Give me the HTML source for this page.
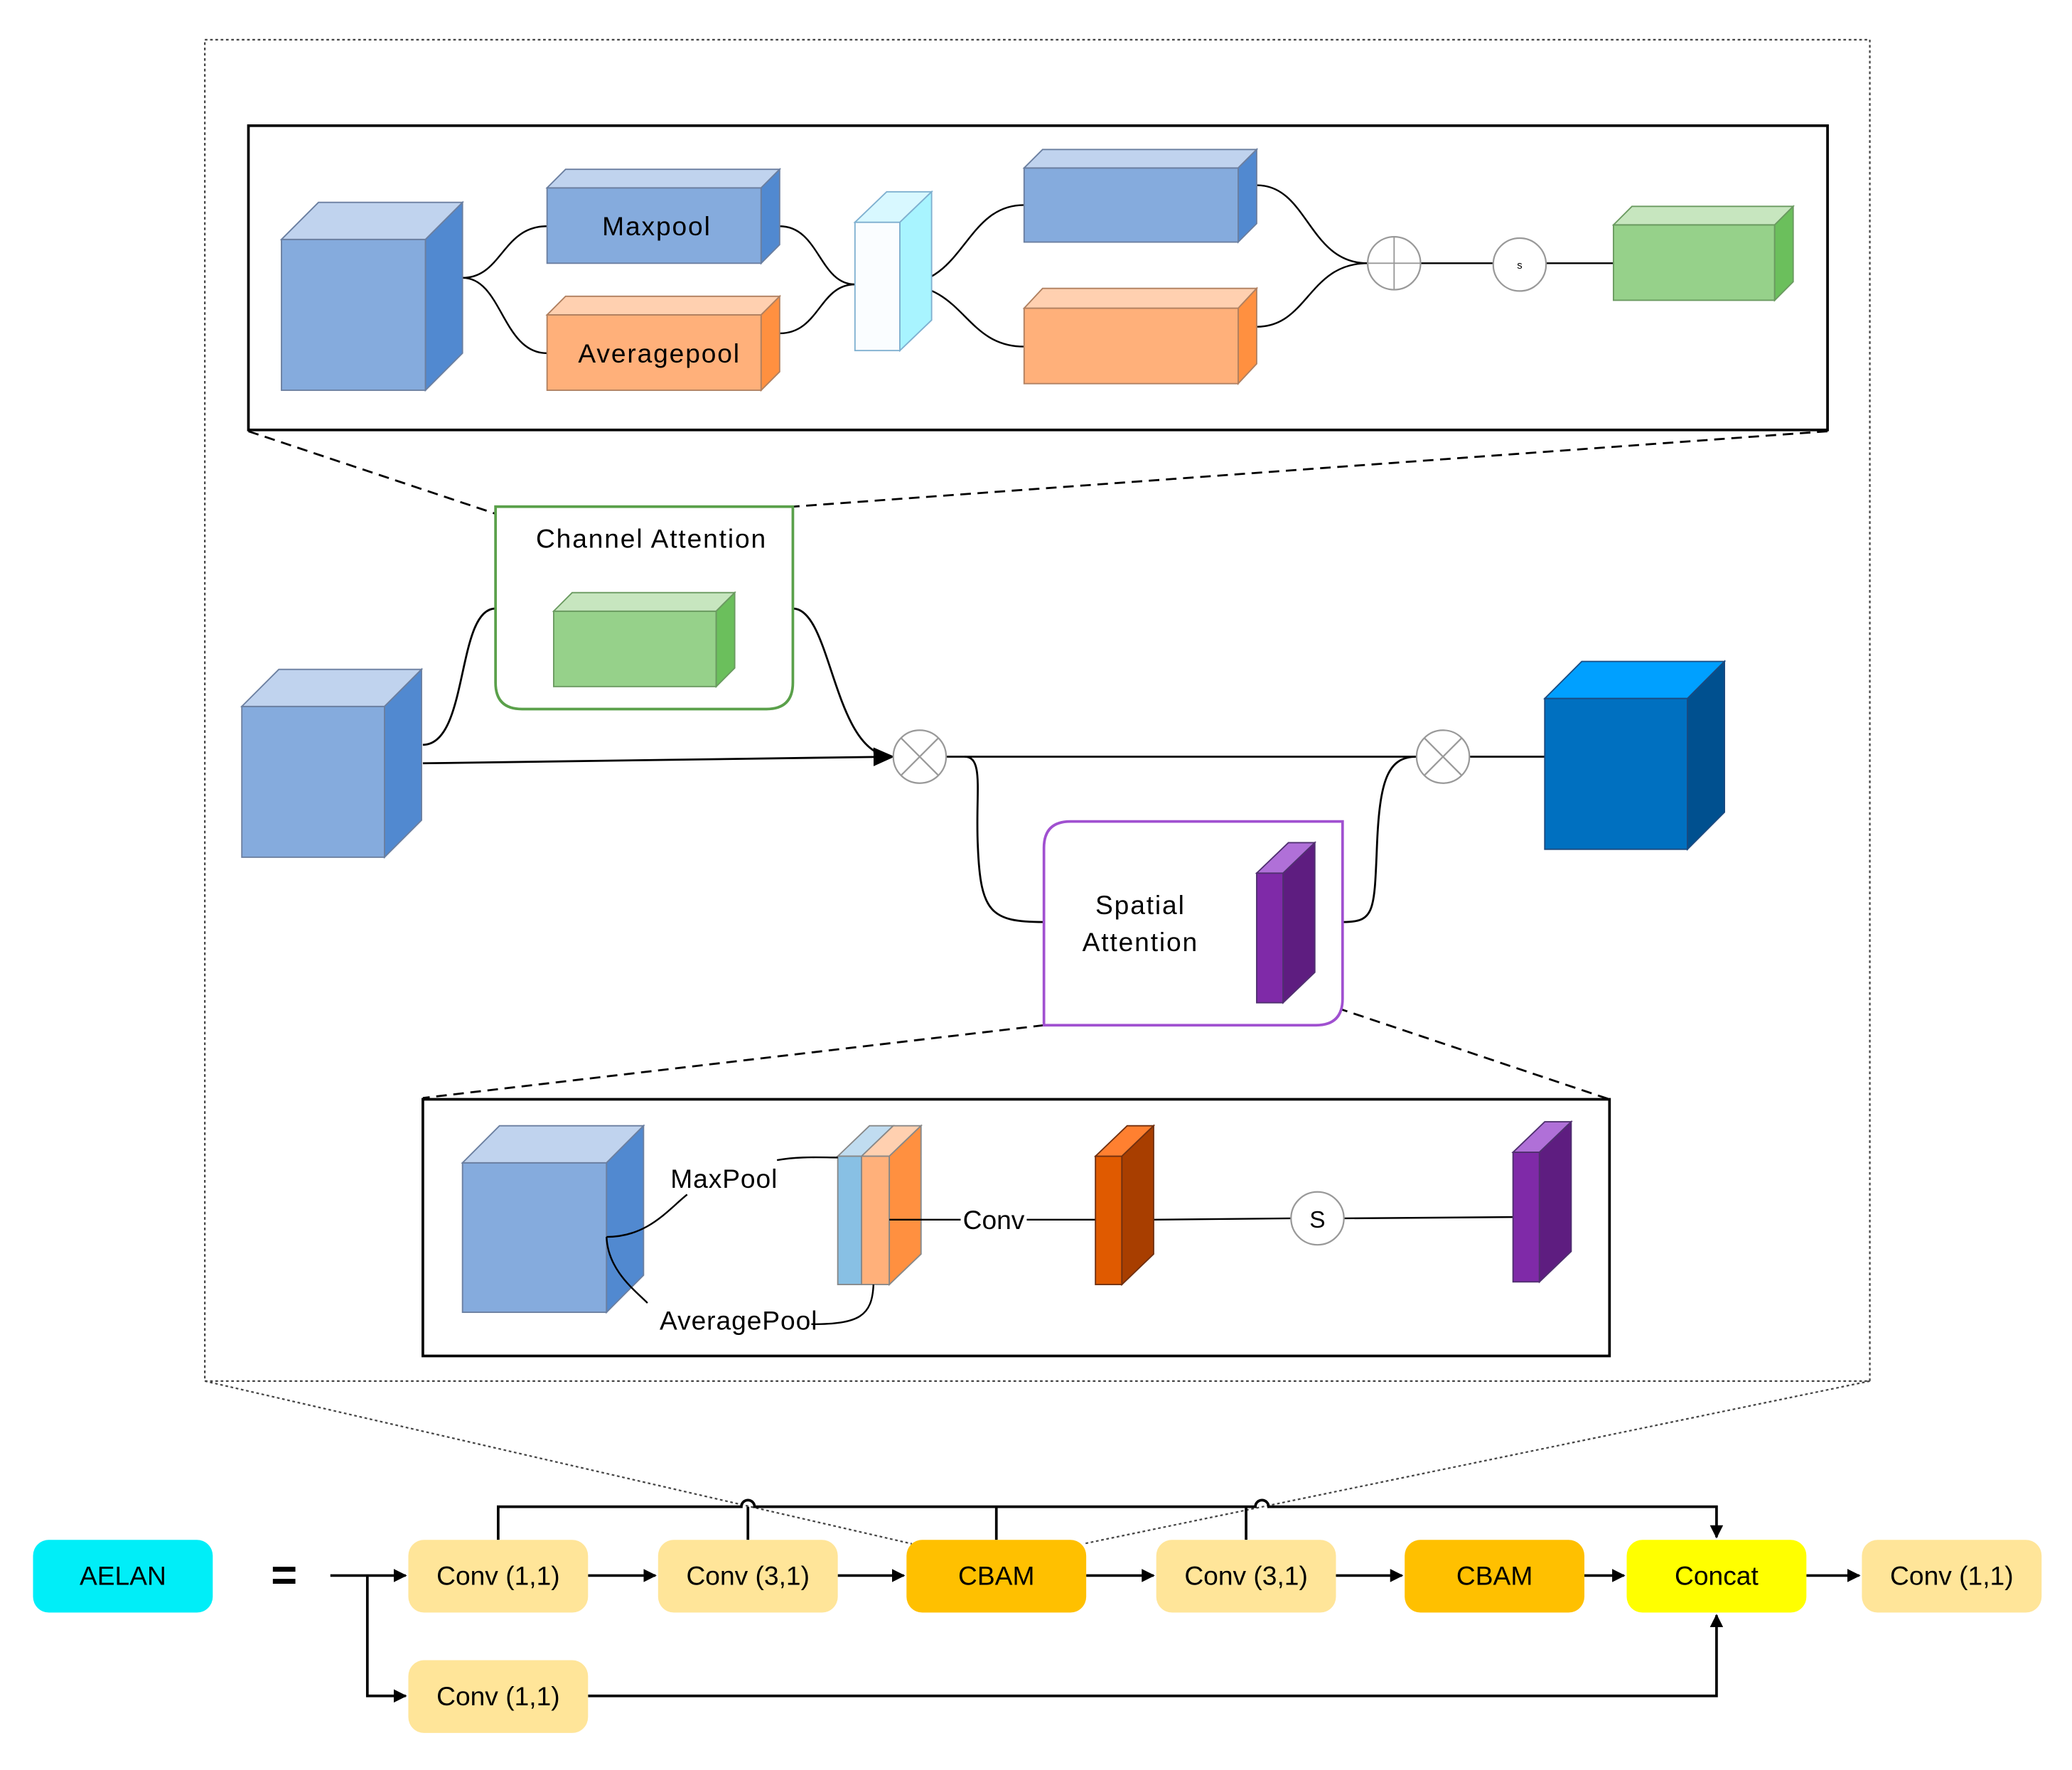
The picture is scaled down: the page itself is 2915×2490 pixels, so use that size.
<!DOCTYPE html>
<html><head><meta charset="utf-8"><style>html,body{margin:0;padding:0;background:#fff;}svg{display:block}</style></head>
<body>
<svg width="2915" height="2490" viewBox="0 0 1568 1338" preserveAspectRatio="none" xmlns="http://www.w3.org/2000/svg" font-family="Liberation Sans, sans-serif">
<defs>
<marker id="ar" markerWidth="10" markerHeight="10" refX="9" refY="5" orient="auto" markerUnits="userSpaceOnUse"><path d="M0,0 L10,5 L0,10 z" fill="#000"/></marker>
<marker id="ab" markerWidth="16" markerHeight="14" refX="15" refY="7" orient="auto" markerUnits="userSpaceOnUse"><path d="M0,0 L16,7 L0,14 z" fill="#000"/></marker>
</defs>
<rect width="1568" height="1338" fill="#fff"/>
<rect x="155" y="30" width="1260" height="1014" fill="none" stroke="#444" stroke-width="1.2" stroke-dasharray="2,2"/>
<line x1="155" y1="1044" x2="690" y2="1167" stroke="#444" stroke-width="1.2" stroke-dasharray="2,2"/>
<line x1="1415" y1="1044" x2="820" y2="1167" stroke="#444" stroke-width="1.2" stroke-dasharray="2,2"/>
<rect x="188" y="95" width="1195" height="230" fill="none" stroke="#000" stroke-width="2"/>
<g stroke="#000" stroke-width="1.3" fill="none">
<path d="M350,210 C380,210 380,171 414,171"/>
<path d="M350,210 C380,210 380,267 414,267"/>
<path d="M590,171 C620,171 620,215 647,215"/>
<path d="M590,252 C620,252 620,215 647,215"/>
<path d="M681,215 C730,215 730,155 775,155"/>
<path d="M681,215 C730,215 730,262 775,262"/>
<path d="M951,140 C990,140 990,199 1035,199"/>
<path d="M951,247 C990,247 990,199 1035,199"/>
<line x1="1075" y1="199" x2="1130" y2="199"/>
<line x1="1170" y1="199" x2="1221" y2="199"/>
</g>
<g stroke="#6b7fa0" stroke-width="1">
<rect x="213" y="181" width="109" height="114" fill="#85abdd"/>
<polygon points="213,181 241,153 350,153 322,181" fill="#c0d3ee"/>
<polygon points="322,181 350,153 350,267 322,295" fill="#5189d0"/>
<rect x="414" y="142" width="162" height="57" fill="#85abdd"/>
<polygon points="414,142 428,128 590,128 576,142" fill="#c0d3ee"/>
<polygon points="576,142 590,128 590,185 576,199" fill="#5189d0"/>
<rect x="775" y="127" width="162" height="56" fill="#85abdd"/>
<polygon points="775,127 789,113 951,113 937,127" fill="#c0d3ee"/>
<polygon points="937,127 951,113 951,169 937,183" fill="#5189d0"/>
</g>
<g stroke="#b08060" stroke-width="1">
<rect x="414" y="238" width="162" height="57" fill="#ffb07a"/>
<polygon points="414,238 428,224 590,224 576,238" fill="#ffd0b0"/>
<polygon points="576,238 590,224 590,281 576,295" fill="#ff9040"/>
<rect x="775" y="233" width="162" height="57" fill="#ffb07a"/>
<polygon points="775,233 789,218 951,218 937,233" fill="#ffd0b0"/>
<polygon points="937,233 951,218 951,275 937,290" fill="#ff9040"/>
</g>
<g stroke="#7fb0d0" stroke-width="1">
<rect x="647" y="168" width="34" height="97" fill="#fafdff"/>
<polygon points="647,168 671,145 705,145 681,168" fill="#d8f8ff"/>
<polygon points="681,168 705,145 705,242 681,265" fill="#a8f4ff"/>
</g>
<g stroke="#6a9a60" stroke-width="1">
<rect x="1221" y="170" width="122" height="57" fill="#96d18a"/>
<polygon points="1221,170 1235,156 1357,156 1343,170" fill="#c7e6bf"/>
<polygon points="1343,170 1357,156 1357,213 1343,227" fill="#6bbf5c"/>
</g>
<text x="497" y="178" font-size="20" text-anchor="middle" letter-spacing="1">Maxpool</text>
<text x="499" y="274" font-size="20" text-anchor="middle" letter-spacing="1">Averagepool</text>
<circle cx="1055" cy="199" r="20" fill="#fff" stroke="#999" stroke-width="1.2"/>
<line x1="1035" y1="199" x2="1075" y2="199" stroke="#999"/><line x1="1055" y1="179" x2="1055" y2="219" stroke="#999"/>
<circle cx="1150" cy="200" r="20" fill="#fff" stroke="#999" stroke-width="1.2"/>
<text x="1150" y="203" font-size="8" text-anchor="middle">s</text>
<g stroke="#000" stroke-width="1.5" stroke-dasharray="8,5" fill="none">
<line x1="188" y1="326" x2="380" y2="390"/>
<line x1="1383" y1="326" x2="600" y2="383"/>
<line x1="790" y1="775" x2="320" y2="830"/>
<line x1="1012" y1="762" x2="1218" y2="831"/>
</g>
<g stroke="#000" stroke-width="1.5" fill="none">
<path d="M320,563 C355,563 345,460 375,460"/>
<line x1="320" y1="577" x2="676" y2="572" marker-end="url(#ab)"/>
<path d="M600,460 C630,460 630,572 676,572" marker-end="url(#ab)"/>
<line x1="716" y1="572" x2="1072" y2="572"/>
<path d="M730,572 C745,572 738,600 740,640 C742,690 750,697 790,697"/>
<path d="M1016,697 C1040,697 1040,690 1042,640 C1044,590 1050,572 1072,572"/>
<line x1="1112" y1="572" x2="1169" y2="572"/>
</g>
<path d="M375,383 L600,383 L600,516 Q600,536 580,536 L395,536 Q375,536 375,516 Z" fill="#fff" stroke="#5aa04a" stroke-width="2"/>
<text x="493" y="414" font-size="20" text-anchor="middle" letter-spacing="1">Channel Attention</text>
<g stroke="#6a9a60" stroke-width="1">
<rect x="419" y="462" width="123" height="57" fill="#96d18a"/>
<polygon points="419,462 433,448 556,448 542,462" fill="#c7e6bf"/>
<polygon points="542,462 556,448 556,505 542,519" fill="#6bbf5c"/>
</g>
<g stroke="#6b7fa0" stroke-width="1">
<rect x="183" y="534" width="108" height="114" fill="#85abdd"/>
<polygon points="183,534 211,506 319,506 291,534" fill="#c0d3ee"/>
<polygon points="291,534 319,506 319,620 291,648" fill="#5189d0"/>
</g>
<g stroke="#1a4a80" stroke-width="1">
<rect x="1169" y="528" width="108" height="114" fill="#0070c0"/>
<polygon points="1169,528 1197,500 1305,500 1277,528" fill="#00a0ff"/>
<polygon points="1277,528 1305,500 1305,614 1277,642" fill="#00508f"/>
</g>
<g stroke="#999" stroke-width="1.2" fill="#fff">
<circle cx="696" cy="572" r="20"/><line x1="682" y1="558" x2="710" y2="586"/><line x1="710" y1="558" x2="682" y2="586"/>
<circle cx="1092" cy="572" r="20"/><line x1="1078" y1="558" x2="1106" y2="586"/><line x1="1106" y1="558" x2="1078" y2="586"/>
</g>
<path d="M810,621 L1016,621 L1016,755 Q1016,775 996,775 L790,775 L790,641 Q790,621 810,621 Z" fill="#fff" stroke="#a050d0" stroke-width="2"/>
<text x="863" y="691" font-size="20" text-anchor="middle" letter-spacing="1">Spatial</text>
<text x="863" y="719" font-size="20" text-anchor="middle" letter-spacing="1">Attention</text>
<g stroke="#503070" stroke-width="1">
<rect x="951" y="660" width="20" height="98" fill="#7f2aa8"/>
<polygon points="951,660 975,637 995,637 971,660" fill="#b070d8"/>
<polygon points="971,660 995,637 995,735 971,758" fill="#5e1d80"/>
</g>
<rect x="320" y="831" width="898" height="194" fill="none" stroke="#000" stroke-width="2"/>
<g stroke="#6b7fa0" stroke-width="1">
<rect x="350" y="879" width="109" height="113" fill="#85abdd"/>
<polygon points="350,879 378,851 487,851 459,879" fill="#c0d3ee"/>
<polygon points="459,879 487,851 487,964 459,992" fill="#5189d0"/>
</g>
<g stroke="#888" stroke-width="1">
<polygon points="634,874 658,851 676,851 652,874" fill="#c0dcf0"/>
<rect x="634" y="874" width="18" height="97" fill="#88c0e4"/>
<polygon points="652,874 676,851 697,851 673,874" fill="#ffd0b0"/>
<rect x="652" y="874" width="21" height="97" fill="#ffb07a"/>
<polygon points="673,874 697,851 697,948 673,971" fill="#ff9040"/>
</g>
<g stroke="#000" stroke-width="1.3" fill="none">
<path d="M459,935 C490,935 505,915 520,903"/>
<path d="M459,935 C460,960 480,975 490,985"/>
<path d="M588,877 C605,874 620,875 634,875"/>
<path d="M614,1001 C650,1001 660,995 661,971"/>
<line x1="673" y1="922" x2="727" y2="922"/>
<line x1="777" y1="922" x2="829" y2="922"/>
<line x1="873" y1="922" x2="977" y2="921"/>
<line x1="1017" y1="921" x2="1145" y2="920"/>
</g>
<text x="548" y="898" font-size="20" text-anchor="middle" letter-spacing="0.5">MaxPool</text>
<text x="559" y="1005" font-size="20" text-anchor="middle" letter-spacing="0.5">AveragePool</text>
<text x="752" y="929" font-size="20" text-anchor="middle">Conv</text>
<g stroke="#703010" stroke-width="1">
<rect x="829" y="874" width="20" height="97" fill="#e05a00"/>
<polygon points="829,874 853,851 873,851 849,874" fill="#ff8030"/>
<polygon points="849,874 873,851 873,948 849,971" fill="#a83e00"/>
</g>
<circle cx="997" cy="921" r="20" fill="#fff" stroke="#999" stroke-width="1.2"/>
<text x="997" y="928" font-size="18" text-anchor="middle">S</text>
<g stroke="#503070" stroke-width="1">
<rect x="1145" y="871" width="20" height="98" fill="#7f2aa8"/>
<polygon points="1145,871 1169,848 1189,848 1165,871" fill="#b070d8"/>
<polygon points="1165,871 1189,848 1189,946 1165,969" fill="#5e1d80"/>
</g>
<g stroke="#000" stroke-width="2" fill="none">
<line x1="250" y1="1191" x2="307" y2="1191" marker-end="url(#ar)"/>
<polyline points="278,1191 278,1282 307,1282" marker-end="url(#ar)"/>
<line x1="445" y1="1191" x2="496" y2="1191" marker-end="url(#ar)"/>
<line x1="634" y1="1191" x2="684" y2="1191" marker-end="url(#ar)"/>
<line x1="822" y1="1191" x2="873" y2="1191" marker-end="url(#ar)"/>
<line x1="1011" y1="1191" x2="1061" y2="1191" marker-end="url(#ar)"/>
<line x1="1199" y1="1191" x2="1229" y2="1191" marker-end="url(#ar)"/>
<line x1="1367" y1="1191" x2="1407" y2="1191" marker-end="url(#ar)"/>
<polyline points="445,1282 1299,1282 1299,1221" marker-end="url(#ar)"/>
<path d="M377,1164 L377,1139 L561,1139 A5,5 0 0 1 571,1139 L950,1139 A5,5 0 0 1 960,1139 L1299,1139 L1299,1162" marker-end="url(#ar)"/>
<line x1="566" y1="1164" x2="566" y2="1139"/>
<line x1="754" y1="1164" x2="754" y2="1139"/>
<line x1="943" y1="1164" x2="943" y2="1139"/>
</g>
<g font-size="20" text-anchor="middle">
<rect x="25" y="1164" width="136" height="55" rx="12" fill="#00eef8"/><text x="93" y="1198">AELAN</text>
<text x="215" y="1202" font-size="34" font-weight="bold">=</text>
<rect x="309" y="1164" width="136" height="55" rx="12" fill="#ffe599"/><text x="377" y="1198">Conv (1,1)</text>
<rect x="498" y="1164" width="136" height="55" rx="12" fill="#ffe599"/><text x="566" y="1198">Conv (3,1)</text>
<rect x="686" y="1164" width="136" height="55" rx="12" fill="#ffc000"/><text x="754" y="1198">CBAM</text>
<rect x="875" y="1164" width="136" height="55" rx="12" fill="#ffe599"/><text x="943" y="1198">Conv (3,1)</text>
<rect x="1063" y="1164" width="136" height="55" rx="12" fill="#ffc000"/><text x="1131" y="1198">CBAM</text>
<rect x="1231" y="1164" width="136" height="55" rx="12" fill="#ffff00"/><text x="1299" y="1198">Concat</text>
<rect x="1409" y="1164" width="136" height="55" rx="12" fill="#ffe599"/><text x="1477" y="1198">Conv (1,1)</text>
<rect x="309" y="1255" width="136" height="55" rx="12" fill="#ffe599"/><text x="377" y="1289">Conv (1,1)</text>
</g>
</svg>
</body></html>
